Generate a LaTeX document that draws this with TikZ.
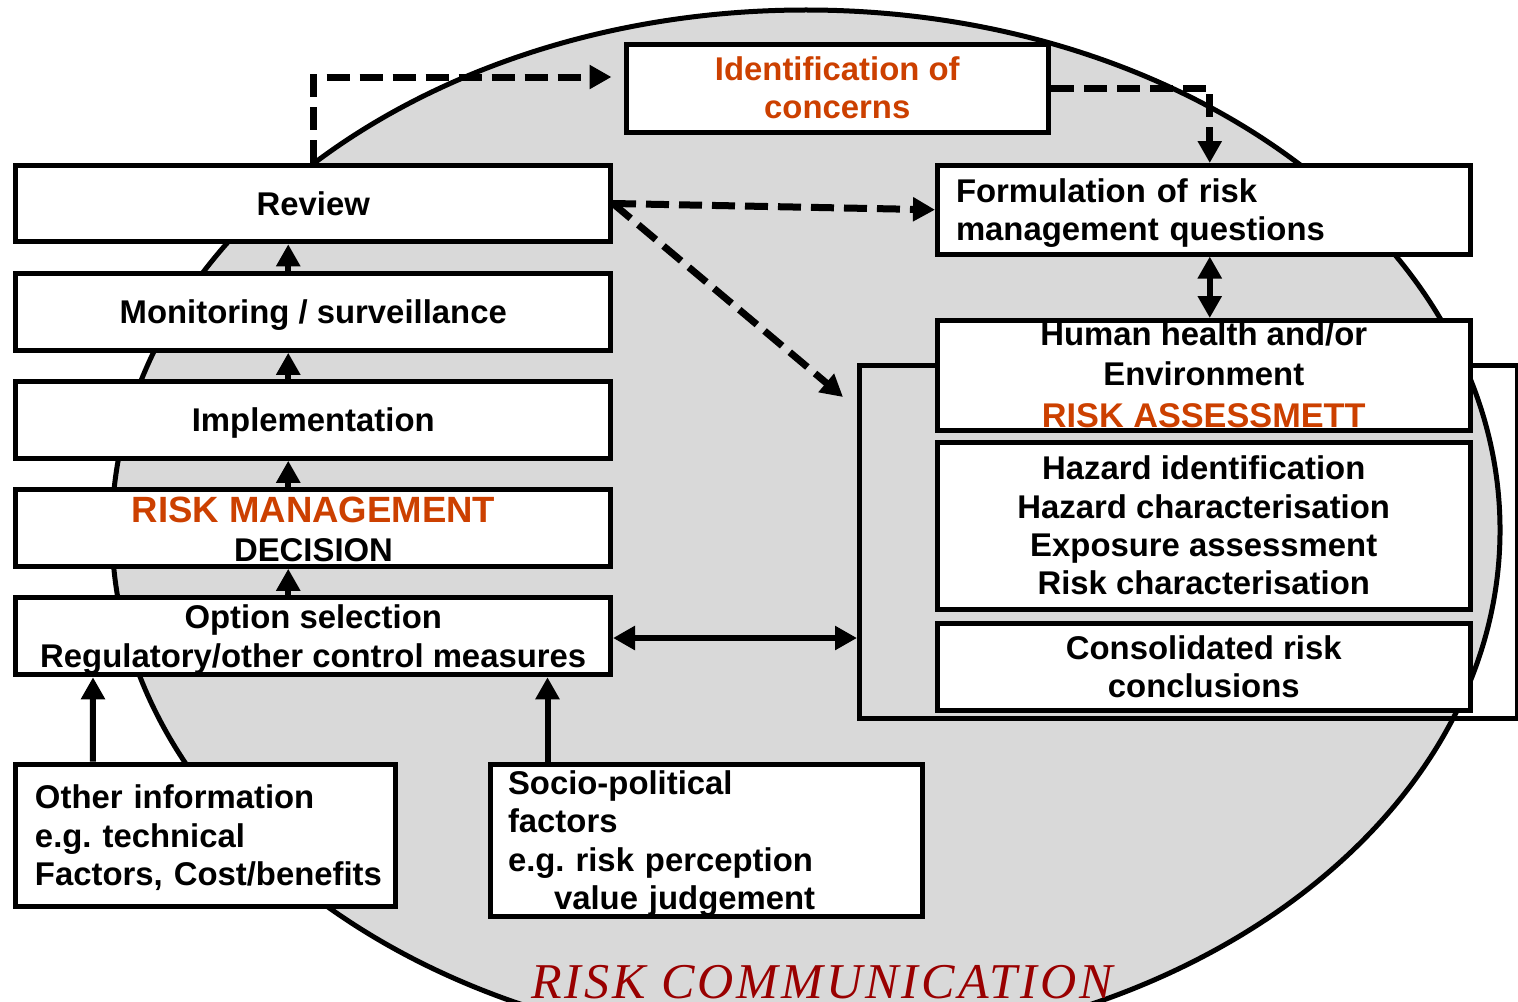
\documentclass[tikz,border=0pt]{standalone}
\usepackage{fontspec}
\setmainfont{Liberation Sans}
\newfontfamily\commfont[LetterSpace=6]{Liberation Serif}
\usetikzlibrary{arrows.meta,calc}
\frenchspacing

\definecolor{ragray}{RGB}{217,217,217}
\definecolor{raorange}{RGB}{204,64,0}
\definecolor{commred}{RGB}{153,0,0}

\newcommand{\boxfont}{\fontsize{18.7}{21.9}\selectfont\bfseries}

\tikzset{
	box/.style={draw, line width=1mm, fill=white, inner sep=0pt, align=center, font=\boxfont},
	stack/.style={box, minimum width=118.9mm, minimum height=15.3mm, text depth=0pt},
	rabox/.style={box, minimum width=106.5mm},
	flow/.style={line width=1.2mm, -{Triangle[length=4.4mm,width=4.6mm]}},
	twoway/.style={line width=1.2mm, {Triangle[length=4.4mm,width=4.6mm]}-{Triangle[length=4.4mm,width=4.6mm]}},
	feedback/.style={flow, line width=1.4mm, dash pattern=on 4.6mm off 2mm},
}

\begin{document}
\begin{tikzpicture}[x=0.2mm,y=-0.2mm]
		\useasboundingbox (0,0) rectangle (1518,1001);
		% Risikokommunikation als Ellipse im Hintergrund
		\draw[line width=1mm, fill=ragray] (806,530) ellipse [x radius=138.8mm, y radius=104mm];

		% Risikomanagement (linke Spalte)
		\node[stack] (rev) at (313.25,203.5) {Review};
		\node[stack] (mon) at (313.25,312) {Monitoring / surveillance};
		\node[stack] (imp) at (313.25,420) {Implementation};
		\node[stack] (dec) at (313.25,528) {};
		\node[stack, minimum height=15.5mm] (opt) at (313.25,636) {Option selection\\Regulatory/other control measures};

		% Eingaben von unten
		\node[box, align=left, inner xsep=3.8mm, text width=68.3mm, minimum height=28.5mm, text depth=15.4mm] (oth) at (205.75,835.25) {Other information\\e.g.~technical\\Factors,~Cost/benefits};
		\node[box, align=left, inner xsep=3.6mm, text width=79.2mm, minimum height=30.5mm, text depth=23.1mm] (soc) at (706,840.25) {Socio-political\\factors\\e.g.~risk perception\\\hspace*{9.2mm}value judgement};

		% Problemformulierung
		\node[box, text=raorange, minimum width=84.5mm, minimum height=17.6mm] (idc) at (837.25,88) {Identification of\\concerns};
		\node[box, align=left, inner xsep=3.7mm, text width=99.1mm, minimum height=17.7mm, text depth=7.7mm] (fq) at (1203.75,209.75) {Formulation of risk\\management questions};

		% Risikobewertung (rechter Rahmen)
		\node[draw, line width=1mm, inner sep=0pt, minimum width=131.5mm, minimum height=70.6mm] (ra) at (1188.25,542) {};
		\node[rabox, minimum height=22mm] (hh) at (1203.75,375.5) {};
		\node[rabox, minimum height=33.4mm] (haz) at (1203.75,525.5) {Hazard identification\\Hazard characterisation\\Exposure assessment\\Risk characterisation};
		\node[rabox, minimum height=17.4mm] (con) at (1203.75,666.5) {Consolidated risk\\conclusions};

		% Beschriftungen, die ueber den Kastenrand hinausragen
		\node[anchor=base, font=\fontsize{20.8}{22}\selectfont\bfseries, text=raorange] (rmtitle) at (313.5,522.7) {RISK MANAGEMENT};
		\node[anchor=base, font=\boxfont] (dectext) at (313.5,561) {DECISION};
		\node[anchor=base, font=\boxfont] (hhtext) at (1203.75,345) {Human health and/or};
		\node[anchor=base, font=\boxfont] (envtext) at (1203.75,385) {Environment};
		\node[anchor=base, font=\fontsize{19.5}{22}\selectfont\bfseries, text=raorange] (ratitle) at (1203.75,427) {RISK ASSESSMETT};

		% Pfeile in der linken Spalte
		\foreach \lo/\up in {mon/rev, imp/mon, dec/imp, opt/dec}
			\draw[flow] ($(\lo.north)+(-25,0)$) -- ($(\up.south)+(-25,0)$);
		\draw[flow] ($(oth.north west)+(79.5,0)$) -- ($(opt.south west)+(79.5,0)$);
		\draw[flow] ($(soc.north west)+(60,0)$) coordinate (socup) -- (socup |- opt.south);
		\draw[twoway] ($(opt.east)+(0,2)$) -- ($(opt.east -| ra.west)+(0,2)$);
		\draw[twoway] ($(fq.south)+(6,0)$) -- ($(hh.north)+(6,0)$);

		% Rueckkopplung (gestrichelt)
		\coordinate (raentry) at ($(ra.north west)+(-14,34)$);
		\draw[feedback] (rev.north) |- ($(idc.west)+(-12,-11)$);
		\draw[feedback] (idc.east) -| ($(fq.north)+(6,0)$);
		\draw[feedback] (rev.east) -- (fq.west);
		\draw[feedback] (rev.east) -- (raentry);

		\node[anchor=base, font=\commfont\fontsize{28.5}{30}\selectfont\itshape, text=commred] (comm) at (822,998) {RISK COMMUNICATION};
	\end{tikzpicture}
\end{document}
